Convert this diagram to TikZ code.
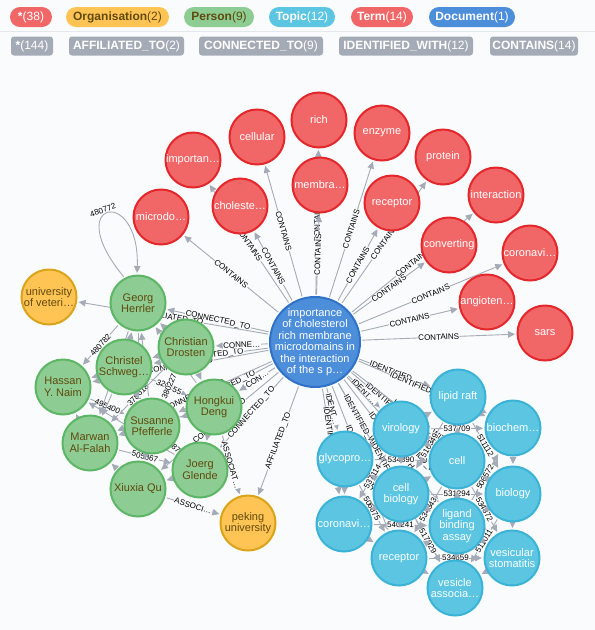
\documentclass[tikz,border=0pt]{standalone}
\usepackage{fontspec}
\setmainfont{Liberation Sans}
\usetikzlibrary{arrows.meta}
\pgfdeclarelayer{bglayer}
\pgfdeclarelayer{edgelayer}
\pgfsetlayers{bglayer,edgelayer,main}
\definecolor{bgc}{HTML}{F9FBFD}
\definecolor{edgec}{HTML}{A5ABB6}
\definecolor{termf}{HTML}{F16667}
\definecolor{termd}{HTML}{E3272B}
\definecolor{persf}{HTML}{8DCC93}
\definecolor{persd}{HTML}{5DB665}
\definecolor{orgf}{HTML}{FFC454}
\definecolor{orgd}{HTML}{D9A31A}
\definecolor{topf}{HTML}{5CC6E2}
\definecolor{topd}{HTML}{3BB3D6}
\definecolor{docf}{HTML}{4C8EDA}
\definecolor{docd}{HTML}{2F72C6}
\definecolor{darktxt}{HTML}{604A0E}
\definecolor{sepc}{HTML}{E4E7EC}
\tikzset{
  gnode/.style={circle, minimum size=55pt, inner sep=-8pt, line width=2pt, align=center, font=\fontsize{11}{11.5}\selectfont},
  term/.style={gnode, fill=termf, draw=termd, text=white},
  pers/.style={gnode, fill=persf, draw=persd, text=darktxt},
  org/.style={gnode, fill=orgf, draw=orgd, text=darktxt},
  topic/.style={gnode, fill=topf, draw=topd, text=white},
  docnode/.style={gnode, minimum size=90pt, inner sep=-14pt, fill=docf, draw=docd, text=white},
  edge/.style={draw=edgec, line width=0.9pt, -{Triangle[length=7pt,width=6.5pt]}, shorten >=1.5pt, shorten <=1.5pt},
  elabel/.style={midway, sloped, font=\fontsize{8}{8}\selectfont, text=black, fill=bgc, inner sep=0.6pt},
  pill/.style={rounded corners=10pt, minimum height=20pt, inner sep=0pt, font=\fontsize{12}{12}\selectfont},
  tag/.style={rounded corners=3pt, minimum height=19pt, inner sep=0pt, fill=edgec, text=white, font=\fontsize{12}{12}\selectfont},
}
\begin{document}
\begin{tikzpicture}[x=1pt,y=-1pt]
\useasboundingbox (0,0) rectangle (595,630);
\begin{pgfonlayer}{bglayer}
\fill[bgc] (0,0) rectangle (595,630);
\draw[sepc, line width=1pt] (0,31) -- (595,31);
\end{pgfonlayer}

% legend
\node[pill, fill=termf, text=white, minimum width=42pt] (lgall) at (31,17) {\bfseries*\mdseries(38)};
\node[pill, fill=orgf, text=darktxt, minimum width=103pt] (lgorg) at (117.5,17) {\bfseries Organisation\mdseries(2)};
\node[pill, fill=persf, text=darktxt, minimum width=70pt] (lgpers) at (219,17) {\bfseries Person\mdseries(9)};
\node[pill, fill=topf, text=white, minimum width=66pt] (lgtop) at (302,17) {\bfseries Topic\mdseries(12)};
\node[pill, fill=termf, text=white, minimum width=62pt] (lgterm) at (382,17) {\bfseries Term\mdseries(14)};
\node[pill, fill=docf, text=white, minimum width=86pt] (lgdoc) at (472,17) {\bfseries Document\mdseries(1)};
\node[tag, minimum width=42pt] (tgall) at (32,46) {\bfseries*\mdseries(144)};
\node[tag, minimum width=115pt] (tgaff) at (126.5,46) {\bfseries AFFILIATED\_TO\mdseries(2)};
\node[tag, minimum width=124pt] (tgcon) at (261,46) {\bfseries CONNECTED\_TO\mdseries(9)};
\node[tag, minimum width=134pt] (tgide) at (406,46) {\bfseries IDENTIFIED\_WITH\mdseries(12)};
\node[tag, minimum width=88pt] (tgcnt) at (534,46) {\bfseries CONTAINS\mdseries(14)};

% document
\node[docnode] (doc) at (315,342) {importance\\of cholesterol\\rich membrane\\microdomains in\\the interaction\\of the s p…};

% terms
\node[term] (tcellular) at (257,137) {cellular};
\node[term] (trich) at (319,120) {rich};
\node[term] (tenz) at (382,133) {enzyme};
\node[term] (timp) at (193,160) {importan…};
\node[term] (tmem) at (320,185) {membra…};
\node[term] (tprot) at (443,157) {protein};
\node[term] (tchol) at (240,206) {choleste…};
\node[term] (trec) at (392,203) {receptor};
\node[term] (tmic) at (161,217) {microdo…};
\node[term] (tint) at (496,195) {interaction};
\node[term] (tconv) at (449,245) {converting};
\node[term] (tcor) at (530,253) {coronavi…};
\node[term] (tang) at (487,302) {angioten…};
\node[term] (tsars) at (545,333) {sars};

% persons
\node[pers] (pgeorg) at (138,303) {Georg\\Herrler};
\node[pers] (pchristian) at (186,347) {Christian\\Drosten};
\node[pers] (pchristel) at (124,367) {Christel\\Schweg…};
\node[pers] (phassan) at (63,387) {Hassan\\Y. Naim};
\node[pers] (phongkui) at (214,407) {Hongkui\\Deng};
\node[pers] (psusanne) at (152,426) {Susanne\\Pfefferle};
\node[pers] (pmarwan) at (90,443) {Marwan\\Al-Falah};
\node[pers] (pjoerg) at (200,470) {Joerg\\Glende};
\node[pers] (pxiuxia) at (138,489) {Xiuxia Qu};

% organisations
\node[org] (ouniv) at (49,297) {university\\of veteri…};
\node[org] (opeking) at (248,523) {peking\\university};

% topics
\node[topic] (xlipid) at (458,397) {lipid raft};
\node[topic] (xbiochem) at (513,428) {biochem…};
\node[topic] (xvir) at (401,429) {virology};
\node[topic] (xcell) at (457,461) {cell};
\node[topic] (xgly) at (345,459) {glycopro…};
\node[topic] (xbiol) at (513,494) {biology};
\node[topic] (xcb) at (401,494) {cell\\biology};
\node[topic] (xlig) at (457,526) {ligand\\binding\\assay};
\node[topic] (xcor) at (344,524) {coronavi…};
\node[topic] (xrec) at (399,558) {receptor};
\node[topic] (xves) at (512,558) {vesicular\\stomatitis};
\node[topic] (xvas) at (455,588) {vesicle\\associa…};

\begin{pgfonlayer}{edgelayer}
% CONTAINS
\foreach \t in {tcellular,trich,tenz,timp,tmem,tprot,tchol,trec,tmic,tint,tconv,tcor,tang,tsars}
  \draw[edge] (doc) -- node[elabel]{CONTAINS} (\t);
% CONNECTED_TO
\foreach \p in {pgeorg,pchristel,phassan,psusanne,pmarwan,pjoerg,pxiuxia}
  \draw[edge] (doc) -- node[elabel]{CONNECTED\_TO} (\p);
\draw[edge] (doc) -- node[elabel]{CONNE…} (pchristian);
\draw[edge] (doc) -- node[elabel]{CON…} (phongkui);
% AFFILIATED_TO
\draw[edge] (doc) -- node[elabel]{AFFILIATED\_TO} (ouniv);
\draw[edge] (doc) -- node[elabel]{AFFILIATED\_TO} (opeking);
% ASSOCIATED
\draw[edge] (phongkui) -- node[elabel]{ASSOCIAT…} (opeking);
\draw[edge] (pxiuxia) -- node[elabel]{ASSOCI…} (opeking);
% IDENTIFIED_WITH
\draw[edge] (doc) -- node[elabel]{IDENTIFIED…} (xlipid);
\draw[edge] (doc) -- node[elabel]{IDENTIFIED\_WITH} (xbiochem);
\draw[edge] (doc) -- node[elabel]{IDENT…} (xvir);
\draw[edge] (doc) -- node[elabel]{IDENT…} (xgly);
\foreach \x in {xcell,xbiol,xcb,xlig,xcor,xrec,xves,xvas}
  \draw[edge] (doc) -- node[elabel]{IDENTIFIED\_WITH} (\x);
% person cluster
\draw[edge] (pgeorg.118) .. controls (60,200) and (140,185) .. node[pos=0.45, rotate=19, above=1pt, font=\fontsize{8}{8}\selectfont, inner sep=0.5pt]{480772} (pgeorg.92);
\draw[edge] (pgeorg) -- node[elabel]{480782} (phassan);
\draw[edge] (pgeorg) -- node[elabel]{480178} (pxiuxia);
\draw[edge] (pchristian) -- node[elabel]{378618} (pmarwan);
\draw[edge] (phassan) -- node[elabel]{495400} (psusanne);
\draw[edge] (pchristel) -- node[elabel]{326455} (phongkui);
\draw[edge] (psusanne) -- node[elabel]{388750} (pjoerg);
\draw[edge] (pmarwan) -- node[elabel]{505867} (pjoerg);
\draw[edge] (pchristian) -- node[elabel]{380227} (psusanne);
\draw[edge] (pchristel) -- (pgeorg);
\draw[edge] (psusanne) -- (pgeorg);
\draw[edge] (phongkui) -- (pgeorg);
\draw[edge] (pchristian) -- (pgeorg);
\draw[edge] (pchristel) -- (phassan);
\draw[edge] (pchristel) -- (pmarwan);
\draw[edge] (pmarwan) -- (phassan);
\draw[edge] (psusanne) -- (pmarwan);
\draw[edge] (pxiuxia) -- (pmarwan);
\draw[edge] (psusanne) -- (pxiuxia);
\draw[edge] (pjoerg) -- (pxiuxia);
\draw[edge] (phongkui) -- (pjoerg);
\draw[edge] (phongkui) -- (psusanne);
\draw[edge] (pchristian) -- (pchristel);
\draw[edge] (pchristian) -- (phongkui);
\draw[edge] (pchristel) -- (psusanne);
\draw[edge] (pgeorg) -- (pmarwan);
\draw[edge] (phongkui) -- (pmarwan);
\draw[edge] (pjoerg) -- (phassan);
% topic cluster
\draw[edge] (xvir) -- node[elabel]{537709} (xbiochem);
\draw[edge] (xgly) -- node[elabel]{534890} (xcell);
\draw[edge] (xgly) -- node[elabel]{506875} (xrec);
\draw[edge] (xcor) -- node[elabel]{540241} (xlig);
\draw[edge] (xcell) -- node[elabel]{534343} (xrec);
\draw[edge] (xcb) -- node[elabel]{517929} (xvas);
\draw[edge] (xrec) -- node[elabel]{534659} (xves);
\draw[edge] (xcb) -- node[elabel]{531294} (xbiol);
\draw[edge] (xcell) -- node[elabel]{534872} (xves);
\draw[edge] (xbiol) -- node[elabel]{511011} (xvas);
\draw[edge] (xlipid) -- node[elabel]{511112} (xbiol);
\draw[edge] (xlig) -- node[elabel]{506572} (xbiochem);
\draw[edge] (xlipid) -- node[elabel]{516349} (xcb);
\draw[edge] (xvir) -- node[elabel]{537114} (xcor);
\draw[edge] (xvir) -- (xlipid);
\draw[edge] (xlipid) -- (xbiochem);
\draw[edge] (xbiochem) -- (xbiol);
\draw[edge] (xbiol) -- (xves);
\draw[edge] (xves) -- (xvas);
\draw[edge] (xrec) -- (xvas);
\draw[edge] (xcor) -- (xrec);
\draw[edge] (xgly) -- (xcor);
\draw[edge] (xgly) -- (xvir);
\draw[edge] (xvir) -- (xcell);
\draw[edge] (xcell) -- (xlipid);
\draw[edge] (xcb) -- (xcell);
\draw[edge] (xcb) -- (xlig);
\draw[edge] (xlig) -- (xcell);
\draw[edge] (xlig) -- (xvas);
\draw[edge] (xlig) -- (xves);
\draw[edge] (xcb) -- (xrec);
\draw[edge] (xcb) -- (xgly);
\draw[edge] (xcb) -- (xcor);
\draw[edge] (xbiol) -- (xcell);
\draw[edge] (xbiol) -- (xlig);
\draw[edge] (xvir) -- (xcb);
\draw[edge] (xrec) -- (xlig);
\end{pgfonlayer}
\end{tikzpicture}
\end{document}
